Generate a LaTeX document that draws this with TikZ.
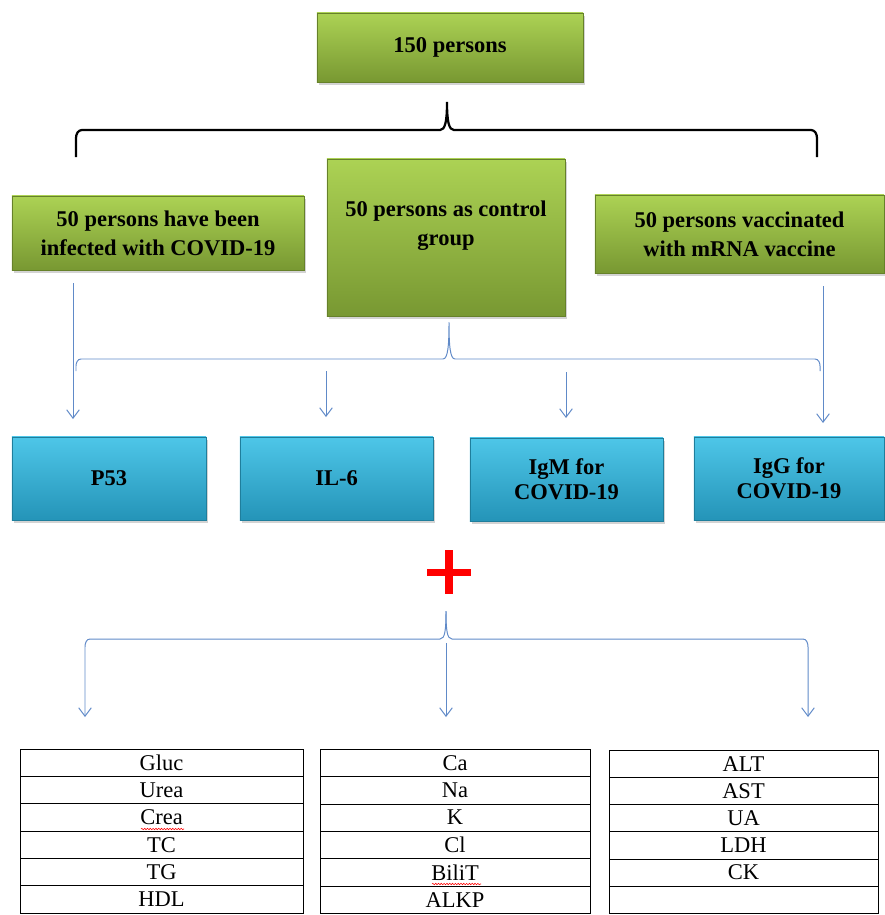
\documentclass[tikz,border=0pt]{standalone}
\usepackage{fontspec}
\setmainfont{Liberation Serif}
\usetikzlibrary{arrows.meta, positioning, calc, shadows, decorations.pathmorphing}

\definecolor{grntop}{RGB}{172,210,84}
\definecolor{grnbot}{RGB}{120,152,50}
\definecolor{cyntop}{RGB}{78,198,232}
\definecolor{cynbot}{RGB}{36,148,184}
\definecolor{lineblue}{RGB}{96,138,200}

\begin{document}
\begin{tikzpicture}[x=0.025cm, y=-0.025cm,
    group/.style={rectangle, draw=grnbot!85!black, top color=grntop, bottom color=grnbot,
                  drop shadow={shadow xshift=1.2pt, shadow yshift=-2.2pt, opacity=.35},
                  inner sep=0pt, align=center, font=\fontsize{16}{20.5}\selectfont\bfseries},
    grouptext/.style={align=center, inner sep=0pt, font=\fontsize{16}{20.5}\selectfont\bfseries},
    test/.style={rectangle, draw=cynbot!85!black, top color=cyntop, bottom color=cynbot,
                 drop shadow={shadow xshift=1.2pt, shadow yshift=-2.2pt, opacity=.35},
                 minimum height=2.075cm, inner sep=0pt, align=center,
                 font=\fontsize{16}{18}\selectfont\bfseries},
    cell/.style={rectangle, draw=black, thin, inner sep=0pt, outer sep=0pt,
                 font=\fontsize{16}{18}\selectfont},
    brace/.style={draw=black, line width=1.6pt},
    bracket/.style={draw=lineblue, line width=0.7pt},
    link/.style={-{Straight Barb[length=6pt, width=9pt]}, draw=lineblue, line width=0.7pt},
    squiggle/.style={draw=red, line width=0.4pt, decorate,
                     decoration={snake, amplitude=0.5pt, segment length=2pt}}
]
\useasboundingbox (0,0) rectangle (884,915);

% Groups
\node[group, minimum width=6.65cm, minimum height=1.725cm] (total) at (450,47.5) {150 persons};
\node[group, minimum width=7.3cm, minimum height=1.85cm] (infected) at (158,233)
    {50 persons have been\\infected with COVID-19};
\node[group, minimum width=5.95cm, minimum height=3.925cm] (control) at (446,237.5) {};
\node[grouptext] (controltext) at (446,225.5) {50 persons as control\\group};
\node[group, minimum width=7.225cm, minimum height=1.95cm] (vaccinated) at (739.5,234)
    {50 persons vaccinated\\with mRNA vaccine};

% Black brace
\draw[brace] (76,157) -- (76,138) to[out=90,in=180] (82,130) -- (440,130)
    .. controls (445,130) and (447,122) .. (447,102)
    .. controls (447,122) and (449,130) .. (454,130) -- (811,130)
    to[out=0,in=90] (817,138) -- (817,157);

% Tests
\node[test, minimum width=4.85cm] (p53) at (109,478.5) {P53};
\node[test, minimum width=4.825cm] (il6) at (336.5,478.5) {IL-6};
\node[test, minimum width=4.825cm] (igm) at (566.5,479.5) {IgM for\\COVID-19};
\node[test, minimum width=4.75cm] (igg) at (789,478.5) {IgG for\\COVID-19};

% Blue brace and arrows
\draw[bracket] (76,371) -- (76,366) to[out=90,in=180] (81,359) -- (443,359)
    .. controls (448,359) and (449,345) .. (449,322)
    .. controls (449,345) and (450,359) .. (455,359) -- (815,359)
    to[out=0,in=90] (820,366) -- (820,371);
\coordinate (infout) at (73,283);
\coordinate (vacout) at (823,286);
\coordinate (p53in) at (73,419);
\coordinate (iggin) at (823,423);
\draw[link] (infout) -- (p53in);
\draw[link] (vacout) -- (iggin);
\draw[link] (326,371) -- (326,417);
\draw[link] (566,372) -- (566,418);

% Plus sign
\coordinate (plus) at (449,572);
\fill[red] ($(plus)+(-4,-22)$) rectangle ($(plus)+(4,22)$);
\fill[red] ($(plus)+(-22,-3.5)$) rectangle ($(plus)+(22,3.5)$);

% Second blue brace
\coordinate (tabAin) at (85,717);
\coordinate (tabBin) at (446,717);
\coordinate (tabCin) at (808,717);
\draw[link] (446,611) .. controls (446,630) and (445,639) .. (440,639) -- (90,639)
    to[out=180,in=90] (85,647) -- (tabAin);
\draw[link] (446,611) .. controls (446,630) and (447,639) .. (452,639) -- (803,639)
    to[out=0,in=90] (808,647) -- (tabCin);
\draw[link] (446,643) -- (tabBin);

% Tables
\foreach \name [count=\i] in {Gluc,Urea,Crea,TC,TG,HDL}
  \node[cell, minimum width=7.075cm, minimum height=0.6833cm]
    (tabA-\i) at (161.5,{749+27.33*(\i-0.5)}) {\name};
\foreach \name [count=\i] in {Ca,Na,K,Cl,BiliT,ALKP}
  \node[cell, minimum width=6.75cm, minimum height=0.685cm]
    (tabB-\i) at (455,{749+27.4*(\i-0.5)}) {\name};
\foreach \name [count=\i] in {ALT,AST,UA,LDH,CK,\mbox{}}
  \node[cell, minimum width=6.725cm, minimum height=0.68cm]
    (tabC-\i) at (743.5,{750+27.2*(\i-0.5)}) {\name};

% spell-check marks
\draw[squiggle] (141,829) -- (184,829);
\draw[squiggle] (432,884) -- (481,884);

\end{tikzpicture}
\end{document}
